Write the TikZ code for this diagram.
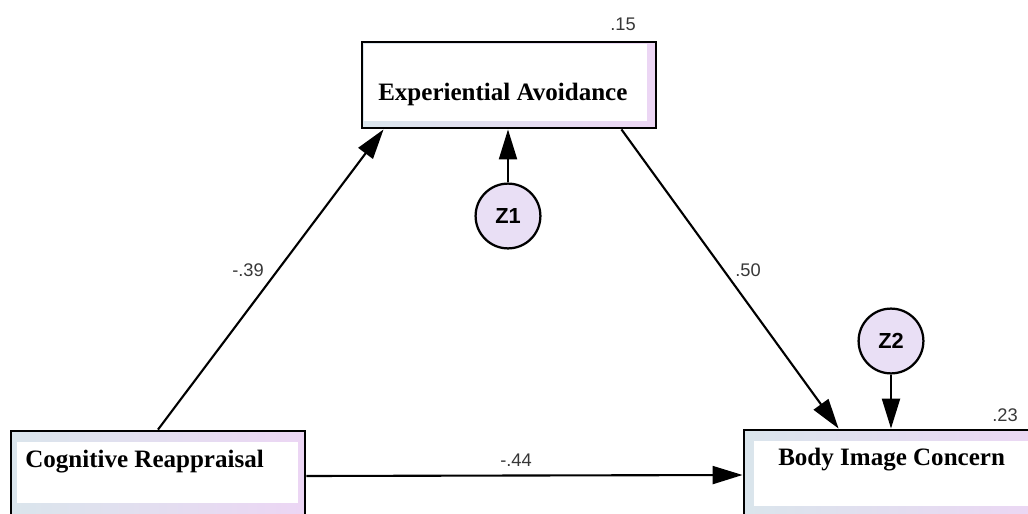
\documentclass[tikz,border=0pt]{standalone}
\usepackage{fontspec}
\setmainfont{Liberation Serif}
\setsansfont{Liberation Sans}
\usepackage{tikz}
\usetikzlibrary{arrows.meta, positioning}

\definecolor{boxleft}{RGB}{218,229,236}
\definecolor{boxright}{RGB}{236,214,244}
\definecolor{errfill}{RGB}{233,223,245}
\definecolor{coefgray}{RGB}{55,55,55}

\tikzset{
    varbox/.style 2 args={draw=black, line width=2pt, left color=boxleft, right color=boxright,
        minimum width=#1, minimum height=#2, inner sep=0pt},
    varname/.style={font=\fontsize{17.8}{20}\selectfont\bfseries, inner sep=0pt, anchor=base west},
    errvar/.style={circle, draw=black, line width=1.6pt, fill=errfill, minimum size=1.62cm,
        inner sep=0pt, font=\sffamily\bfseries\fontsize{15.5}{18}\selectfont},
    coef/.style={font=\sffamily\fontsize{13}{15}\selectfont, text=coefgray, inner sep=0pt, anchor=base west},
    sempath/.style={line width=1.5pt, -{Triangle[length=0.75cm, width=0.45cm]}}
}

\begin{document}
\begin{tikzpicture}[x=0.025cm, y=-0.025cm]

                % Fix the picture size
                \useasboundingbox (0, 0) rectangle (1028, 514);
                \clip (0, 0) rectangle (1028, 514);

                % Draw the observed variables
                \node[varbox={7.35cm}{2.15cm}] (ea) at (509, 85) {};
                \node[varbox={7.35cm}{2.75cm}] (cr) at (158, 486) {};
                \node[varbox={7.65cm}{2.75cm}] (bic) at (897, 485) {};
                \fill[white] ([shift={(3, 3)}]ea.north west) rectangle ([shift={(-10, -8)}]ea.south east);
                \fill[white] ([shift={(7, 12)}]cr.north west) rectangle ([shift={(-8, -39)}]cr.south east);
                \fill[white] ([shift={(11, 12)}]bic.north west) rectangle ([shift={(-8, -35)}]bic.south east);

                % Add labels to variables
                \node[varname] (ea-t) at (378, 100) {Experiential Avoidance};
                \node[varname] (cr-t) at (25, 467) {Cognitive Reappraisal};
                \node[varname] (bic-t) at (778, 465) {Body Image Concern};

                % Draw the error terms
                \node[errvar] (z1) at (508, 216) {Z1};
                \node[errvar] (z2) at (891, 341) {Z2};

                % Draw the paths
                \draw[sempath] (cr.north) -- ([xshift=0.575cm]ea.south west);
                \draw[sempath] ([xshift=-0.9cm]ea.south east) -- ([xshift=2.4cm]bic.north west);
                \draw[sempath] ([yshift=0.25cm]cr.east) -- ([yshift=0.25cm]bic.west);
                \draw[sempath] (z1.north) -- (z1.north |- ea.south);
                \draw[sempath] (z2.south) -- (z2.south |- bic.north);

                % Add the estimates
                \node[coef] (c-cr-ea) at (232, 276) {-.39};
                \node[coef] (c-ea-bic) at (735, 276) {.50};
                \node[coef] (c-cr-bic) at (500, 466) {-.44};
                \node[coef] (r-ea) at (610, 30) {.15};
                \node[coef] (r-bic) at (992, 421) {.23};

\end{tikzpicture}
\end{document}
